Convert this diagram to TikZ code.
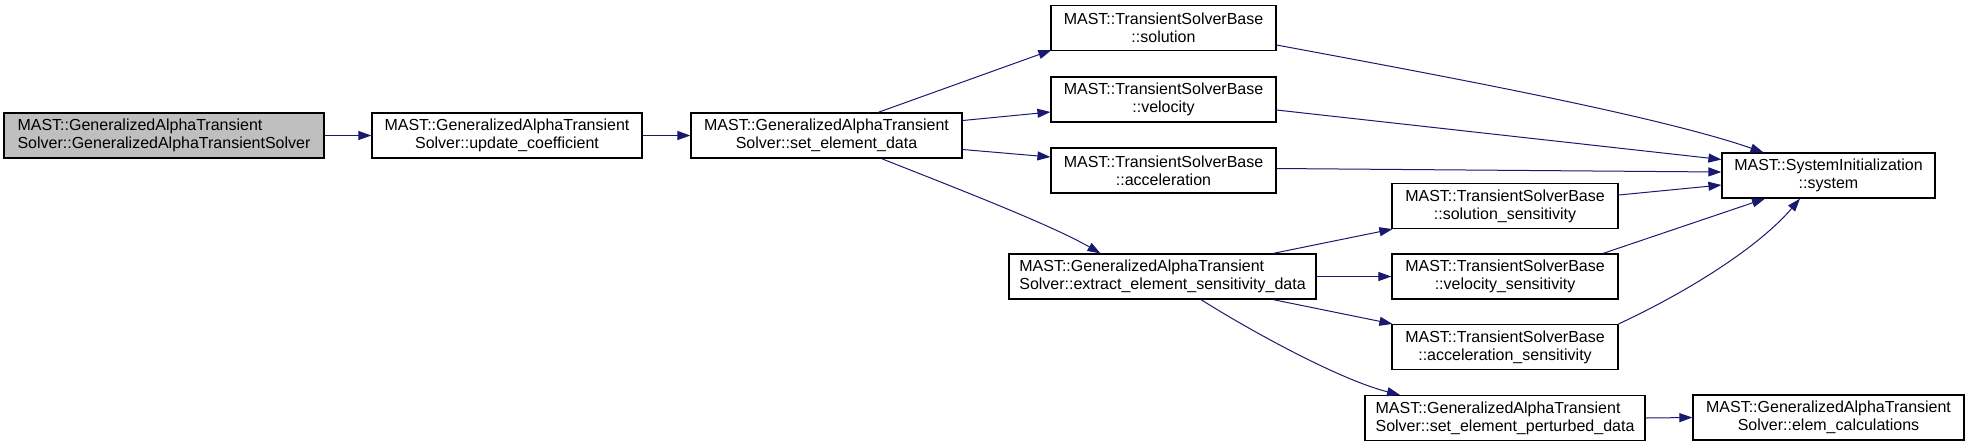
\documentclass[tikz,border=0pt]{standalone}
\usepackage{fontspec}
\setmainfont{Liberation Sans}
\usetikzlibrary{arrows.meta,calc}
\definecolor{edgecol}{HTML}{191970}
\begin{document}
\begin{tikzpicture}[x=0.5pt,y=-0.5pt,
  box/.style={draw=black, line width=0.6pt, minimum height=22.5pt, inner sep=0pt,
    font=\fontsize{8}{9}\selectfont, align=center, fill=white},
  edge/.style={draw=edgecol, line width=0.5pt, -{Triangle[length=6.5pt,width=4.5pt]}}]
\useasboundingbox (0,0) rectangle (1969,447);
\node[box, minimum width=160pt, fill=gray!50, align=left] (A) at (164,135.5)
  {MAST::GeneralizedAlphaTransient\\Solver::GeneralizedAlphaTransientSolver};
\node[box, minimum width=135pt] (B) at (507,135.5)
  {MAST::GeneralizedAlphaTransient\\Solver::update\_coefficient};
\node[box, minimum width=135.5pt] (C) at (826.5,135.5)
  {MAST::GeneralizedAlphaTransient\\Solver::set\_element\_data};
\node[box, minimum width=112.5pt] (sol) at (1163.5,28)
  {MAST::TransientSolverBase\\::solution};
\node[box, minimum width=112.5pt] (vel) at (1163.5,99.5)
  {MAST::TransientSolverBase\\::velocity};
\node[box, minimum width=112.5pt] (acc) at (1163.5,170.5)
  {MAST::TransientSolverBase\\::acceleration};
\node[box, minimum width=106.5pt] (system) at (1828.5,175.5)
  {MAST::SystemInitialization\\::system};
\node[box, minimum width=153.5pt, align=left] (extract) at (1162.5,276.5)
  {MAST::GeneralizedAlphaTransient\\Solver::extract\_element\_sensitivity\_data};
\node[box, minimum width=113pt] (solsens) at (1505,206)
  {MAST::TransientSolverBase\\::solution\_sensitivity};
\node[box, minimum width=113pt] (velsens) at (1505,276.5)
  {MAST::TransientSolverBase\\::velocity\_sensitivity};
\node[box, minimum width=113pt] (accsens) at (1505,347)
  {MAST::TransientSolverBase\\::acceleration\_sensitivity};
\node[box, minimum width=140pt, align=left] (perturbed) at (1505,418)
  {MAST::GeneralizedAlphaTransient\\Solver::set\_element\_perturbed\_data};
\node[box, minimum width=135.5pt] (elem) at (1828.5,417.5)
  {MAST::GeneralizedAlphaTransient\\Solver::elem\_calculations};

\draw[edge] (A.east) -- (B.west);
\draw[edge] (B.east) -- (C.west);
\draw[edge] ($(C.north)+(51.5,0)$) -- ($(sol.south west)+(1,-1)$);
\draw[edge] ($(C.east)+(0,-15)$) -- ($(vel.west)+(0,12.5)$);
\draw[edge] ($(C.east)+(0,14)$) -- ($(acc.west)+(0,-13.5)$);
\draw[edge] ($(C.south)+(55,0)$) .. controls +(68,27) and +(-50,-29) .. ($(extract.north)+(-62,0)$);
\draw[edge] ($(sol.east)+(0,17)$) .. controls +(150,28) and +(-110,-38) .. ($(system.north)+(-65,0)$);
\draw[edge] ($(vel.east)+(0,10.5)$) -- ($(system.west)+(0,-16)$);
\draw[edge] ($(acc.east)+(0,-2)$) -- ($(system.west)+(0,-3.5)$);
\draw[edge] ($(solsens.east)+(0,-11)$) -- ($(system.west)+(0,9.5)$);
\draw[edge] ($(velsens.north)+(98,0)$) -- ($(system.south)+(-63.5,0)$);
\draw[edge] (accsens.north east) .. controls +(73,-34) and +(-40,47) .. ($(system.south)+(-28.5,0)$);
\draw[edge] ($(extract.north)+(110.5,0)$) -- ($(solsens.south west)+(1,0)$);
\draw[edge] (extract.east) -- (velsens.west);
\draw[edge] ($(extract.south)+(110.5,0)$) -- ($(accsens.north west)+(1,0)$);
\draw[edge] ($(extract.south)+(38.5,0)$) .. controls +(49,31) and +(-60,-15) .. ($(perturbed.north)+(-105,0)$);
\draw[edge] (perturbed.east) -- (elem.west);
\end{tikzpicture}
\end{document}
